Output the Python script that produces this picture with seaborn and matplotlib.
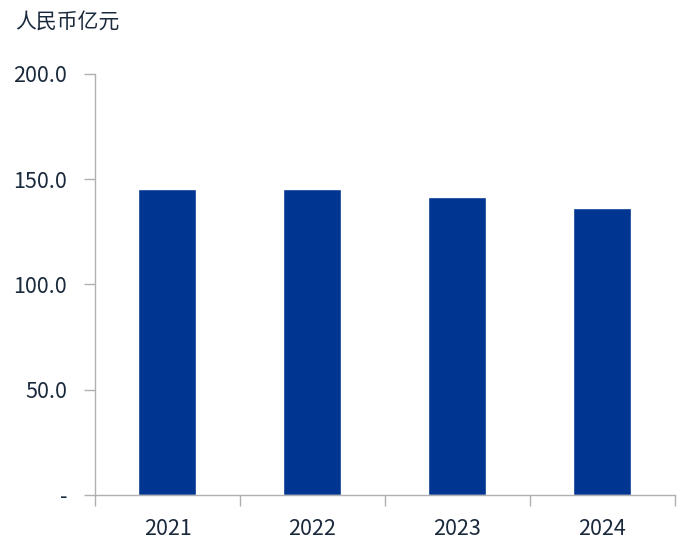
import matplotlib
matplotlib.use("Agg")
import matplotlib.pyplot as plt
import seaborn as sns
import pandas as pd
from matplotlib.ticker import FixedLocator

years = ["2021", "2022", "2023", "2024"]
values = [145.2, 145.5, 141.5, 136.1]
ytick_vals = [0, 50, 100, 150, 200]
ytick_labels = ["-", "50.0", "100.0", "150.0", "200.0"]
unit_label = "人民币亿元"

sns.set_theme(style="white")
plt.rcParams['font.family'] = ['Noto Sans CJK SC', 'DejaVu Sans']

text_color = "#1a2a3c"
bar_color = "#003591"
spine_color = "#b0b0b0"

fig = plt.figure(figsize=(7, 5.55), dpi=100)
ax = fig.add_axes([0.1357, 0.1086, 0.964 - 0.1357, 0.8667 - 0.1086])

df = pd.DataFrame({"year": years, "value": values})
sns.barplot(data=df, x="year", y="value", color=bar_color, width=0.4,
            saturation=1, ax=ax)

ax.set_xlim(-0.5, len(years) - 0.5)
ax.set_ylim(0, 200)
ax.set_yticks(ytick_vals)
ax.set_yticklabels(ytick_labels)
ax.set_xlabel("")
ax.set_ylabel("")

for s in ["top", "right"]:
    ax.spines[s].set_visible(False)
for s in ["left", "bottom"]:
    ax.spines[s].set_color(spine_color)
    ax.spines[s].set_linewidth(1.0)

ax.tick_params(axis="y", which="major", direction="out", length=8, width=1,
               color=spine_color, labelsize=15.5, labelcolor=text_color, pad=12, left=True)
ax.tick_params(axis="x", which="major", length=0, labelsize=15.5,
               labelcolor=text_color, pad=17)
ax.xaxis.set_minor_locator(FixedLocator([i - 0.5 for i in range(len(years) + 1)]))
ax.tick_params(axis="x", which="minor", direction="out", length=8, width=1,
               color=spine_color, bottom=True)

fig.text(15 / 700, 1 - 22 / 555, unit_label, fontsize=15, color=text_color,
         ha="left", va="center")

fig.savefig("out.png", dpi=100, facecolor="white")
